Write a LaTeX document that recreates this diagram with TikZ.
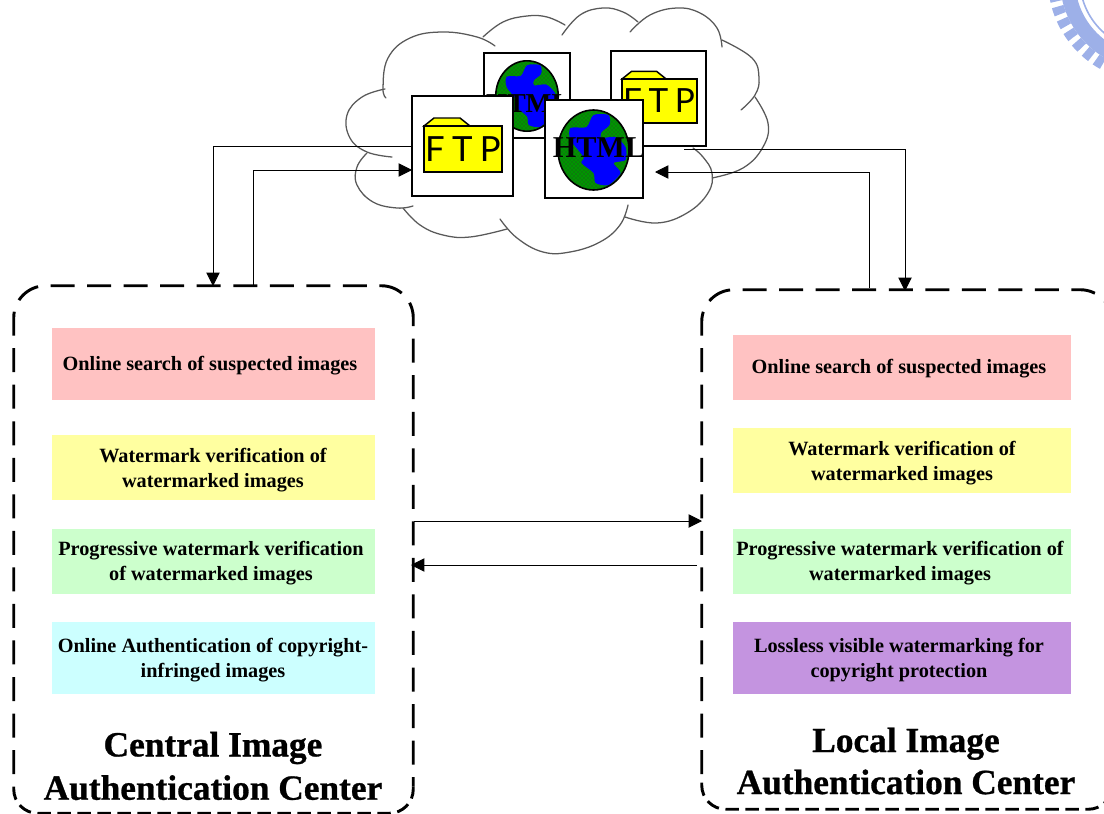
\documentclass[tikz,border=0pt]{standalone}
\usepackage{fontspec}
\setmainfont{Liberation Serif}
\newfontfamily\ftpfont{Lato}
\newfontfamily\titlefont[UprightFont=* Bold,FakeBold=0.8]{Liberation Serif}
\usetikzlibrary{arrows.meta,patterns,shapes.geometric}
\definecolor{cpink}{RGB}{255,194,194}
\definecolor{cyell}{RGB}{255,255,160}
\definecolor{cgreen}{RGB}{204,255,204}
\definecolor{ccyan}{RGB}{204,255,255}
\definecolor{cpurp}{RGB}{196,148,224}
\definecolor{seal}{RGB}{157,176,232}
\definecolor{globeg}{RGB}{0,150,0}
\definecolor{globeb}{RGB}{0,0,255}
\definecolor{folder}{RGB}{255,255,0}
\tikzset{
  cloudline/.style={draw=black!65,line width=0.95pt,line cap=round},
  link/.style={draw=black,line width=0.7pt},
  head/.style={-{Triangle[length=10pt,width=10pt]}},
  center box/.style={draw=none,inner sep=0pt},
  longdash/.style={line width=2.2pt,rounded corners=24pt,dash pattern=on 18pt off 9.4pt},
  shortdash/.style={line width=2.2pt,rounded corners=18pt,dash pattern=on 10pt off 5pt},
  tile/.style={draw=none,inner sep=0pt},
  tile text/.style={inner sep=0pt,align=center,font=\fontsize{15.2}{18.3}\selectfont\bfseries},
  title text/.style={inner sep=0pt,align=center,font=\fontsize{26.5}{#1}\selectfont\titlefont},
  icon/.style={draw=black,line width=1.5pt,fill=white,inner sep=0pt},
  html/.style={inner sep=0pt,font=\fontsize{#1}{#1}\selectfont\bfseries},
  ftp/.style={inner sep=0pt,font=\fontsize{#1}{#1}\selectfont\ftpfont},
}
\newcommand{\pxnode}[7]{\node[#1,minimum width={(#5-#3)*0.75pt},minimum height={(#6-#4)*0.75pt}] (#2) at ({(#3+#5)/2},{(#4+#6)/2}) {#7};}
\newcommand{\tilebox}[9]{\pxnode{tile,fill=#6}{#1}{#2}{#3}{#4}{#5}{}\node[tile text] (#1t) at (#7,#8) {#9};}
\newcommand{\globeicon}[3]{\begin{scope}[shift={(#1,#2)},scale=#3]
  \fill[globeg] (0,0) ellipse [x radius=35.5,y radius=40];
  \fill[pattern=crosshatch dots,pattern color=black!80] (0,0) ellipse [x radius=35.5,y radius=40];
  \fill[globeb] plot[smooth cycle,tension=0.45] coordinates {(0,-35) (15,-35) (16,-25) (8,-18) (8,-12) (22,-13) (32,-3) (32,10) (20,13) (27,23) (15,35) (2,33) (0,23) (-12,13) (-10,7) (-23,-10) (-23,-22) (-7,-23)};
  \draw[line width=1.2pt] (0,0) ellipse [x radius=35.5,y radius=40];
\end{scope}}
\newcommand{\foldericon}[3]{\begin{scope}[shift={(#1,#2)},scale=#3]
  \filldraw[fill=folder,line width=1.1pt] (0,0) -- (10,-8) -- (36,-8) -- (46,0) -- cycle;
  \filldraw[fill=folder,line width=1.1pt] (0,0) rectangle (78,46);
\end{scope}}
\newcommand{\lobe}[1]{\draw[cloudline] plot[smooth,tension=0.7] coordinates {#1};}
\begin{document}
\begin{tikzpicture}[x=0.75pt,y=-0.75pt]
\useasboundingbox (0,0) rectangle (1104,814);
\clip (0,0) rectangle (1104,814);
% seal fragment
\draw[seal,line width=11.25pt] (1150,-20) circle [radius=82.5];
\draw[seal,line width=9pt,dash pattern=on 6pt off 4pt] (1150,-20) circle [radius=96];
\draw[seal,line width=1.2pt] (1150,-20) circle [radius=70];
% cloud
\lobe{(495,46) (477,37) (443,32) (410,38) (388,58) (383,88) (386,98)}
\lobe{(385,89) (362,97) (347,115) (350,138) (367,152) (392,157)}
\lobe{(367,153) (357,167) (357,185) (373,202) (397,208) (413,206)}
\lobe{(403,208) (420,225) (443,235) (470,237) (507,229)}
\lobe{(500,219) (517,238) (543,252) (570,252) (600,242) (620,225) (628,205)}
\lobe{(625,217) (657,223) (687,213) (708,193) (712,173) (703,157) (693,148)}
\lobe{(712,178) (743,168) (763,147) (768,123) (755,97)}
\lobe{(741,110) (755,95) (759,78) (752,58) (722,40)}
\lobe{(722,47) (717,28) (700,13) (677,8) (650,15) (630,32)}
\lobe{(638,22) (623,12) (603,8) (580,15) (562,35)}
\lobe{(565,25) (547,17) (527,16) (503,22) (483,37)}
% icons
\pxnode{icon}{htmlB}{484}{53}{570}{138}{}
\globeicon{527}{96}{0.88}
\node[html=20.5] (htmlBt) at (528,104) {HTML};
\pxnode{icon}{ftpB}{611}{51}{706}{146}{}
\foldericon{622}{79}{0.96}
\node[ftp=25] (ftpBt) at (659,101) {F\kern5pt T\kern5pt P};
\pxnode{icon}{ftpA}{412}{96}{513}{196}{}
\foldericon{424}{126}{1}
\node[ftp=26] (ftpAt) at (463,149) {F\kern5.5pt T\kern5.5pt P};
\pxnode{icon}{htmlA}{545}{100}{643}{198}{}
\globeicon{593.5}{150}{1}
\node[html=22.7] (htmlAt) at (599,148) {HTML};
% centres
\pxnode{center box}{cen}{14}{286}{413}{813}{}
\draw[longdash,dash phase=18pt] ([yshift=20pt]cen.south west) -- (cen.north west) -- (cen.north east) -- ([yshift=20pt]cen.south east);
\draw[shortdash] ([yshift=20pt]cen.south west) -- (cen.south west) -- (cen.south east) -- ([yshift=20pt]cen.south east);
\pxnode{center box}{loc}{702}{290}{1112}{809}{}
\draw[longdash,dash phase=21pt] ([yshift=20pt]loc.south west) -- (loc.north west) -- (loc.north east) -- ([yshift=20pt]loc.south east);
\draw[shortdash] ([yshift=20pt]loc.south west) -- (loc.south west) -- (loc.south east) -- ([yshift=20pt]loc.south east);
\tilebox{a1}{52}{328}{375}{400}{cpink}{210}{366}{Online search of suspected images}
\tilebox{a2}{52}{435}{375}{500}{cyell}{213}{470}{Watermark verification of\\watermarked images}
\tilebox{a3}{52}{529}{375}{594}{cgreen}{211}{563}{Progressive watermark verification\\of watermarked images}
\tilebox{a4}{52}{622}{375}{694}{ccyan}{213}{660}{Online Authentication of copyright-\\infringed images}
\tilebox{b1}{733}{335}{1071}{400}{cpink}{899}{369}{Online search of suspected images}
\tilebox{b2}{733}{428}{1071}{493}{cyell}{902}{463}{Watermark verification of\\watermarked images}
\tilebox{b3}{733}{529}{1071}{594}{cgreen}{900}{563}{Progressive watermark verification of\\watermarked images}
\tilebox{b4}{733}{622}{1071}{694}{cpurp}{899}{660}{Lossless visible watermarking for\\copyright protection}
\node[title text=32.5] (cent) at (213,766) {Central Image\\Authentication Center};
\node[title text=31.5] (lott) at (906,761) {Local Image\\Authentication Center};
% connector ends
\coordinate (c1) at (213,286);
\coordinate (c2) at (253,286);
\coordinate (l0) at (684,149);
\coordinate (l1) at (905,291);
\coordinate (l2) at (869,288);
\coordinate (mA) at (414,521);
\coordinate (mB) at (702,521);
\coordinate (mC) at (697,565);
\coordinate (mD) at (411,565);
\coordinate (rH) at (655,172);
\coordinate (fH) at (412,170);
\draw[link,head] (ftpA.west) -| (c1);
\draw[link,head] (c2) |- (fH);
\draw[link,head] (l0) -| (l1);
\draw[link,head] (l2) |- (rH);
\draw[link,head] (mA) -- (mB);
\draw[link,head] (mC) -- (mD);
\end{tikzpicture}
\end{document}
